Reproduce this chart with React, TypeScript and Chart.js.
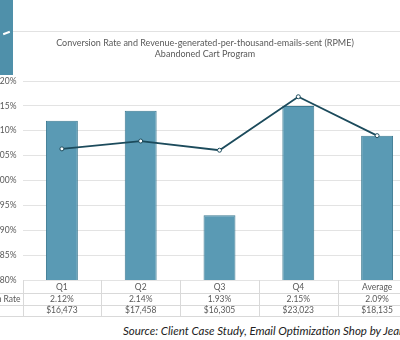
import React, { useEffect, useRef } from "react";
import { Chart, registerables } from "chart.js";

Chart.register(...registerables);

const categories = ["Q1", "Q2", "Q3", "Q4", "Average"];
const conversionRate = [2.12, 2.14, 1.93, 2.15, 2.09];
const rpme = [16473, 17458, 16305, 23023, 18135];
const yMin = 1.8;
const yMax = 2.2;
const yStep = 0.05;
const rpmeMin = 0;
const rpmeMax = 25000;
const titleLines = [
  "Conversion Rate and Revenue-generated-per-thousand-emails-sent (RPME)",
  "Abandoned Cart Program",
];
const rowLabels = ["Conversion Rate", "RPME"];
const sourceText = "Source: Client Case Study, Email Optimization Shop by Jeanne Jennings";

const FONT = "Lato, 'Open Sans', sans-serif";
const TEXT_GRAY = "#595959";
const LINE_GRAY = "#d9d9d9";

const fmtPct = (v: number) => v.toFixed(2) + "%";
const fmtUsd = (v: number) => "$" + v.toLocaleString("en-US");

const tablePlugin = {
  id: "dataTable",
  afterDraw(chart: any) {
    const { ctx, chartArea, scales } = chart;
    const x = scales.x;
    const n = categories.length;
    const step = (chartArea.right - chartArea.left) / n;
    const top = chartArea.bottom;
    const rowLines = [13, 24.5, 36];
    ctx.save();
    ctx.strokeStyle = LINE_GRAY;
    ctx.lineWidth = 1;
    ctx.beginPath();
    for (let i = 0; i <= n; i++) {
      const px = Math.round(chartArea.left + i * step) + 0.5;
      ctx.moveTo(px, top);
      ctx.lineTo(px, top + rowLines[2]);
    }
    for (const dy of rowLines) {
      const py = Math.round(top + dy) + 0.5;
      ctx.moveTo(0, py);
      ctx.lineTo(chartArea.left + n * step, py);
    }
    ctx.stroke();

    ctx.font = "8.5px " + FONT;
    ctx.fillStyle = TEXT_GRAY;
    ctx.textAlign = "center";
    ctx.textBaseline = "middle";
    const r2 = top + 19;
    const r3 = top + 30.5;
    for (let i = 0; i < n; i++) {
      const cx = x.getPixelForValue(i);
      ctx.fillText(fmtPct(conversionRate[i]), cx, r2);
      ctx.fillText(fmtUsd(rpme[i]), cx, r3);
    }
    const w = ctx.measureText(rowLabels[0]).width;
    const sx = chartArea.left - 2 - w;
    ctx.textAlign = "left";
    ctx.fillText(rowLabels[0], sx, r2);
    ctx.fillText(rowLabels[1], sx, r3);
    ctx.restore();
  },
};

export default function App() {
  const canvasRef = useRef<HTMLCanvasElement | null>(null);

  useEffect(() => {
    const canvas = canvasRef.current;
    if (!canvas) return;
    const chart = new Chart(canvas, {
      type: "bar",
      data: {
        labels: categories,
        datasets: [
          {
            type: "line",
            label: "RPME",
            data: rpme,
            yAxisID: "y1",
            borderColor: "#1c4b5c",
            borderWidth: 1.8,
            pointRadius: 2,
            pointBackgroundColor: "#ffffff",
            pointBorderColor: "#1c4b5c",
            pointBorderWidth: 1,
            tension: 0,
            order: 0,
          } as any,
          {
            type: "bar",
            label: "Conversion Rate",
            data: conversionRate,
            yAxisID: "y",
            backgroundColor: "#5a9ab4",
            borderColor: "#3d7a92",
            borderWidth: 1,
            categoryPercentage: 1,
            barPercentage: 0.405,
            order: 1,
          } as any,
        ],
      },
      options: {
        animation: false,
        responsive: false,
        events: [],
        layout: { padding: 0 },
        plugins: {
          legend: { display: false },
          tooltip: { enabled: false },
          title: {
            display: true,
            text: titleLines,
            color: TEXT_GRAY,
            font: { family: FONT, size: 9, weight: "normal" as any, lineHeight: 1.2 },
            padding: { top: 37.6, bottom: 21.8 },
          },
        },
        scales: {
          x: {
            grid: { display: false, drawTicks: false },
            border: { display: false },
            ticks: {
              color: TEXT_GRAY,
              font: { family: FONT, size: 8.5 },
              padding: 2,
              maxRotation: 0,
              autoSkip: false,
            },
            afterFit: (s: any) => {
              s.height = 40;
            },
          },
          y: {
            position: "left",
            min: yMin,
            max: yMax,
            grid: { color: "#e3e3e3", lineWidth: 1, drawTicks: false },
            border: { display: false },
            ticks: {
              stepSize: yStep,
              color: TEXT_GRAY,
              font: { family: FONT, size: 8.5 },
              padding: 6,
              callback: (v: any) => Number(v).toFixed(2) + "%",
            },
            afterFit: (s: any) => {
              s.width = 62.5;
            },
          },
          y1: {
            position: "right",
            min: rpmeMin,
            max: rpmeMax,
            grid: { display: false, drawOnChartArea: false, drawTicks: false },
            border: { display: false },
            ticks: { display: false },
            afterFit: (s: any) => {
              s.width = 33.5;
            },
          },
        },
      },
      plugins: [tablePlugin],
    });
    return () => chart.destroy();
  }, []);

  return (
    <div
      style={{
        position: "fixed",
        left: 0,
        top: 0,
        width: 400,
        height: 340,
        overflow: "hidden",
        background: "#ffffff",
      }}
    >
      <div
        style={{
          position: "absolute",
          left: 0,
          top: 0,
          width: 13,
          height: 75,
          background: "#4f90aa",
        }}
      >
        <div
          style={{
            position: "absolute",
            left: 3,
            top: 32,
            width: 7,
            height: 2,
            background: "#ffffff",
            transform: "rotate(-20deg)",
          }}
        />
      </div>
      <div
        style={{
          position: "absolute",
          left: 13,
          top: 31,
          width: 387,
          height: 1,
          background: "#e2e2e2",
        }}
      />
      <canvas
        ref={canvasRef}
        width={490}
        height={320}
        style={{ position: "absolute", left: -40, top: 0, width: 490, height: 320 }}
      />
      <div
        style={{
          position: "absolute",
          left: 123,
          top: 323,
          whiteSpace: "nowrap",
          fontFamily: FONT,
          fontStyle: "italic",
          fontSize: 11.5,
          color: "#222222",
          lineHeight: "16px",
        }}
      >
        {sourceText}
      </div>
    </div>
  );
}
